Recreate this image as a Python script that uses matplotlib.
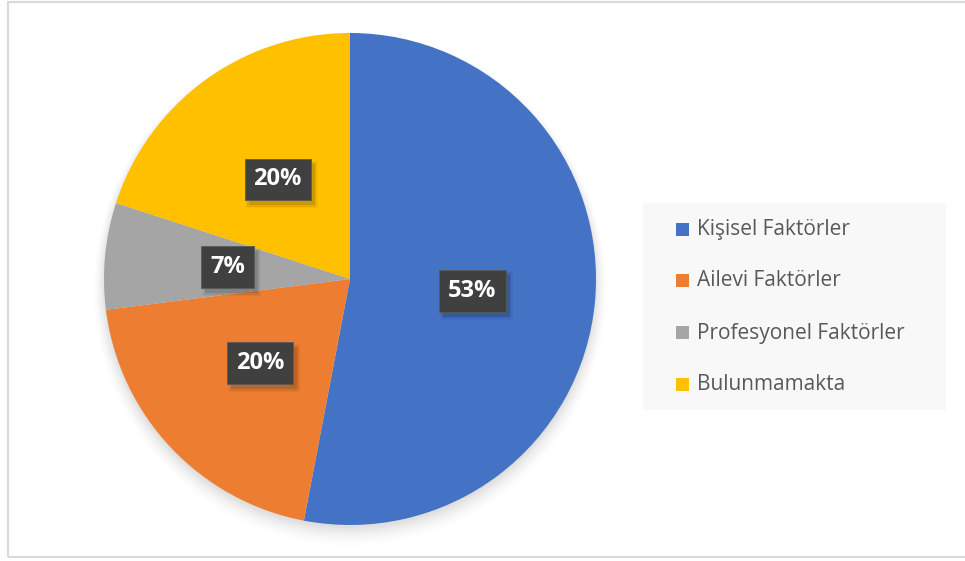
import matplotlib
matplotlib.use("Agg")
import matplotlib.pyplot as plt
from matplotlib.patches import Rectangle, Circle
import numpy as np

categories = ["Kişisel Faktörler", "Ailevi Faktörler", "Profesyonel Faktörler", "Bulunmamakta"]
shares = [53, 20, 7, 20]
colors = ["#4472C4", "#ED7D31", "#A5A5A5", "#FFC000"]

W, H = 965, 561
fig = plt.figure(figsize=(W / 100, H / 100), dpi=100)
fig.patch.set_facecolor("white")


def fx(px):
    return px / W


def fy(py):
    return 1 - py / H


# outer chart frame
fig.patches.append(Rectangle((fx(8), fy(557)), 1.2, (557 - 2) / H,
                             transform=fig.transFigure, fill=False,
                             edgecolor="#D9D9D9", linewidth=1.5))

cx, cy, r = 350, 279, 246
ax = fig.add_axes([fx(cx - r), fy(cy + r), 2 * r / W, 2 * r / H])

wedges, _ = ax.pie(shares, colors=colors, startangle=90, counterclock=False,
                   radius=1.0, wedgeprops=dict(edgecolor="none", linewidth=0))
for w in wedges:
    w.set_zorder(2)
ax.set_xlim(-1.0, 1.0)
ax.set_ylim(-1.0, 1.0)
ax.set_aspect("equal")
ax.axis("off")

# soft shadow under the pie
for i, a in enumerate(np.linspace(0.05, 0.012, 8)):
    ax.add_patch(Circle((0.0, -0.012 - 0.004 * i), 1.0 + 0.006 * i,
                        facecolor="black", alpha=a * 0.5, edgecolor="none",
                        zorder=0, clip_on=False))

# value labels in dark boxes
total = sum(shares)
start = 90.0
labels = []
for val in shares:
    mid = start - val / total * 360 / 2
    start -= val / total * 360
    x = 0.5 * np.cos(np.radians(mid))
    y = 0.5 * np.sin(np.radians(mid))
    t = ax.text(x, y, f"{val}%", ha="center", va="center",
                fontsize=17, fontweight="bold", family="Open Sans", color="white",
                bbox=dict(boxstyle="square,pad=0.38", facecolor="#404040",
                          edgecolor="#595959", linewidth=0.6), zorder=5)
    labels.append(t)

# soft drop shadows behind the label boxes
fig.canvas.draw()
renderer = fig.canvas.get_renderer()
inv = ax.transData.inverted()
for t in labels:
    bb = t.get_bbox_patch().get_window_extent(renderer)
    for k, a in enumerate([0.10, 0.07, 0.04]):
        grow = 1.5 * k
        (x0, y0), (x1, y1) = inv.transform([(bb.x0 + 4 - grow, bb.y0 - 5 - grow),
                                            (bb.x1 + 4 + grow, bb.y1 - 5 + grow)])
        ax.add_patch(Rectangle((x0, y0), x1 - x0, y1 - y0, facecolor="black",
                               alpha=a, edgecolor="none", zorder=4))

# legend panel
fig.patches.append(Rectangle((fx(643), fy(410)), (946 - 643) / W, (410 - 203) / H,
                             transform=fig.transFigure, facecolor="#F8F8F8",
                             edgecolor="none", zorder=0))
row_y = [230, 281, 333, 385]
for name, c, yy in zip(categories, colors, row_y):
    fig.patches.append(Rectangle((fx(676), fy(yy + 6)), 13 / W, 13 / H,
                                 transform=fig.transFigure, facecolor=c,
                                 edgecolor="none", zorder=1))
    fig.text(fx(697), fy(yy), name, ha="left", va="center",
             family="Open Sans", fontsize=15, color="#595959")

fig.savefig("out.png", dpi=100, facecolor="white")
